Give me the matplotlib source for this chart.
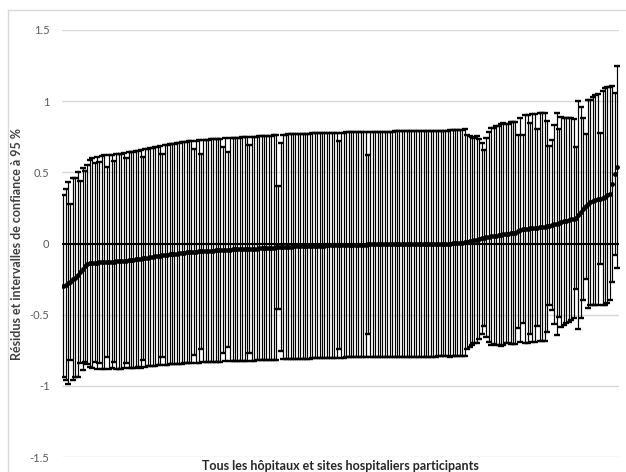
import numpy as np
import matplotlib
matplotlib.use("Agg")
import matplotlib.pyplot as plt
from matplotlib.ticker import FuncFormatter
from matplotlib.lines import Line2D

plt.rcParams['font.family'] = ['Lato', 'DejaVu Sans']
plt.rcParams['axes.unicode_minus'] = False

# residuals per hospital/site, sorted ascending
residus = [
    -0.30, -0.29, -0.28, -0.27, -0.25, -0.24, -0.22, -0.20, -0.18, -0.16,
    -0.145, -0.14, -0.138, -0.136, -0.135, -0.133, -0.132, -0.131, -0.13, -0.129,
    -0.128, -0.127, -0.126, -0.125, -0.124, -0.122, -0.12, -0.118, -0.116, -0.114,
    -0.112, -0.11, -0.107, -0.104, -0.101, -0.099, -0.096, -0.093, -0.09, -0.088,
    -0.085, -0.083, -0.081, -0.079, -0.077, -0.075, -0.073, -0.071, -0.069, -0.067,
    -0.065, -0.063, -0.061, -0.06, -0.058, -0.057, -0.056, -0.055, -0.054, -0.053,
    -0.052, -0.051, -0.05, -0.049, -0.048, -0.047, -0.046, -0.045, -0.044, -0.043,
    -0.042, -0.042, -0.041, -0.041, -0.040, -0.040, -0.039, -0.039, -0.038, -0.037,
    -0.036, -0.035, -0.034, -0.033, -0.032, -0.031, -0.030, -0.029, -0.028, -0.027,
    -0.026, -0.025, -0.024, -0.023, -0.022, -0.021, -0.021, -0.020, -0.020, -0.019,
    -0.019, -0.018, -0.018, -0.017, -0.017, -0.016, -0.016, -0.015, -0.015, -0.014,
    -0.014, -0.013, -0.013, -0.012, -0.012, -0.011, -0.011, -0.010, -0.010, -0.010,
    -0.009, -0.009, -0.009, -0.008, -0.008, -0.008, -0.007, -0.007, -0.007, -0.006,
    -0.006, -0.006, -0.006, -0.005, -0.005, -0.005, -0.005, -0.004, -0.004, -0.004,
    -0.004, -0.003, -0.003, -0.003, -0.003, -0.002, -0.002, -0.002, -0.002, -0.002,
    -0.001, -0.001, -0.001, -0.001, -0.001, 0.0, 0.0, 0.0, 0.0, 0.0,
    0.0, 0.001, 0.001, 0.002, 0.003, 0.005, 0.008, 0.012, 0.016, 0.02,
    0.024, 0.028, 0.032, 0.036, 0.04, 0.043, 0.046, 0.05, 0.053, 0.056,
    0.059, 0.062, 0.065, 0.068, 0.07, 0.072, 0.074, 0.076, 0.085, 0.095,
    0.1, 0.102, 0.104, 0.106, 0.108, 0.11, 0.112, 0.114, 0.116, 0.118,
    0.12, 0.125, 0.13, 0.135, 0.14, 0.145, 0.15, 0.155, 0.16, 0.165,
    0.17, 0.175, 0.18, 0.2, 0.22, 0.24, 0.26, 0.28, 0.29, 0.30,
    0.305, 0.31, 0.315, 0.32, 0.33, 0.34, 0.35, 0.42, 0.49, 0.54,
]

# half-width of the 95 % confidence interval
demi_ic = [
    0.64, 0.67, 0.71, 0.55, 0.71, 0.70, 0.72, 0.64, 0.71, 0.67,
    0.70, 0.73, 0.74, 0.70, 0.745, 0.705, 0.75, 0.75, 0.665, 0.75,
    0.75, 0.705, 0.755, 0.755, 0.755, 0.755, 0.72, 0.76, 0.76, 0.76,
    0.76, 0.76, 0.765, 0.715, 0.765, 0.765, 0.766, 0.767, 0.768, 0.769,
    0.77, 0.715, 0.77, 0.772, 0.773, 0.774, 0.775, 0.776, 0.777, 0.778,
    0.778, 0.779, 0.78, 0.78, 0.725, 0.78, 0.781, 0.685, 0.781, 0.782,
    0.782, 0.782, 0.783, 0.783, 0.783, 0.784, 0.725, 0.784, 0.685, 0.784,
    0.785, 0.785, 0.785, 0.785, 0.785, 0.786, 0.786, 0.73, 0.786, 0.786,
    0.786, 0.787, 0.787, 0.787, 0.787, 0.787, 0.788, 0.788, 0.788, 0.43,
    0.73, 0.788, 0.789, 0.789, 0.789, 0.789, 0.789, 0.789, 0.79, 0.79,
    0.79, 0.79, 0.79, 0.79, 0.79, 0.79, 0.79, 0.79, 0.79, 0.79,
    0.79, 0.79, 0.79, 0.79, 0.73, 0.79, 0.79, 0.79, 0.79, 0.79,
    0.79, 0.79, 0.79, 0.79, 0.79, 0.79, 0.63, 0.79, 0.79, 0.79,
    0.791, 0.791, 0.791, 0.791, 0.791, 0.791, 0.791, 0.791, 0.791, 0.791,
    0.792, 0.792, 0.792, 0.792, 0.792, 0.792, 0.792, 0.792, 0.792, 0.792,
    0.793, 0.793, 0.793, 0.793, 0.793, 0.793, 0.793, 0.793, 0.793, 0.793,
    0.794, 0.794, 0.794, 0.794, 0.794, 0.794, 0.795, 0.75, 0.74, 0.73,
    0.72, 0.73, 0.70, 0.67, 0.62, 0.70, 0.74, 0.76, 0.76, 0.77,
    0.77, 0.78, 0.78, 0.77, 0.77, 0.78, 0.78, 0.78, 0.68, 0.79,
    0.66, 0.80, 0.80, 0.74, 0.80, 0.80, 0.69, 0.80, 0.80, 0.80,
    0.74, 0.56, 0.60, 0.70, 0.78, 0.66, 0.74, 0.73, 0.72, 0.72,
    0.71, 0.70, 0.50, 0.80, 0.74, 0.64, 0.51, 0.73, 0.72, 0.73,
    0.74, 0.74, 0.46, 0.75, 0.76, 0.76, 0.75, 0.69, 0.57, 0.71,
]

yticks = [-1.5, -1, -0.5, 0, 0.5, 1, 1.5]

n = len(residus)
x = np.arange(n)

fig = plt.figure(figsize=(6.26, 4.72), dpi=100)
ax = fig.add_axes([62 / 626, 1 - 457 / 472, 557 / 626, 427 / 472])

# light frame around the chart area
fig.add_artist(Line2D([8 / 626, 8 / 626], [0, 1 - 10 / 472], transform=fig.transFigure,
                      color='#d9d9d9', lw=1))
fig.add_artist(Line2D([8 / 626, 1], [1 - 10 / 472, 1 - 10 / 472], transform=fig.transFigure,
                      color='#d9d9d9', lw=1))

ax.errorbar(x, residus, yerr=demi_ic, fmt='o', ms=2.5, mfc='black', mec='black',
            ecolor='black', elinewidth=0.85, capsize=1.9, capthick=1.7, zorder=3)
ax.axhline(0, color='black', lw=1.5, zorder=4)

ax.set_ylim(-1.5, 1.5)
ax.set_xlim(-0.5, n - 0.2)
ax.set_yticks(yticks)
ax.yaxis.set_major_formatter(FuncFormatter(lambda v, p: '%g' % v))
ax.set_xticks([])
ax.grid(axis='y', color='#d9d9d9', lw=1)
ax.set_axisbelow(True)
for s in ax.spines.values():
    s.set_visible(False)
ax.tick_params(axis='y', length=0, pad=9, labelsize=8, labelcolor='#595959')

ax.set_ylabel('Résidus et intervalles de confiance à 95 %', fontsize=9,
              fontweight='bold', color='#404040', labelpad=5)
ax.set_xlabel('Tous les hôpitaux et sites hospitaliers participants', fontsize=9,
              fontweight='bold', color='#262626', labelpad=2)

fig.savefig('out.png', dpi=100)
